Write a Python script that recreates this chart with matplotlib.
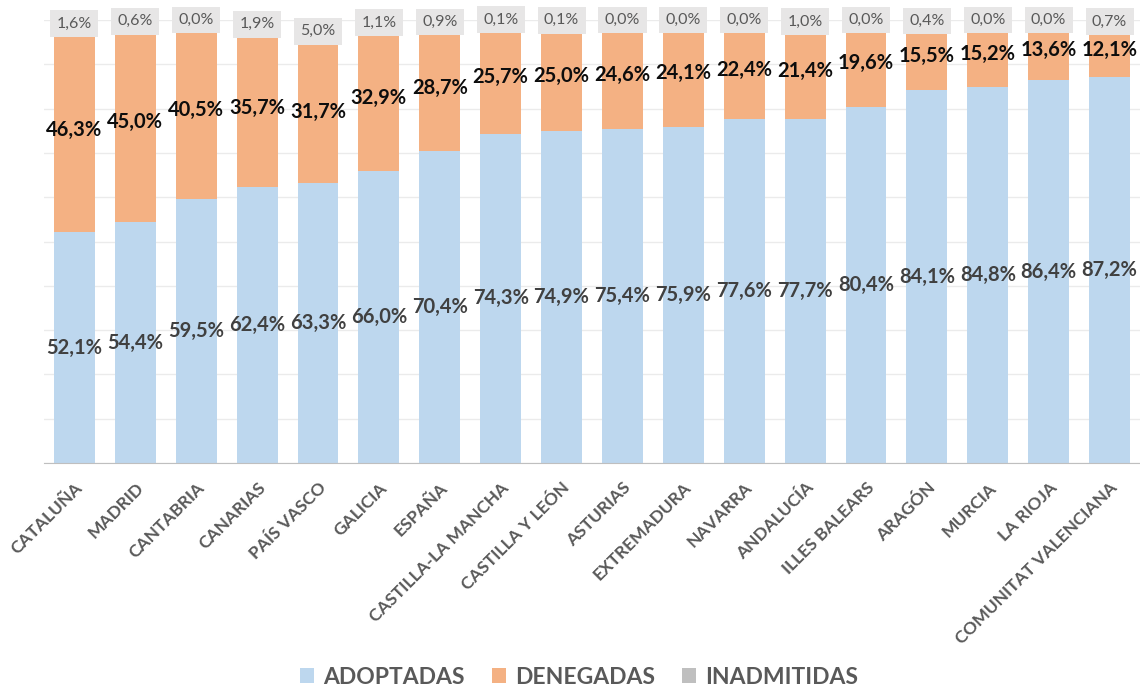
import matplotlib
matplotlib.use("Agg")
import matplotlib.pyplot as plt
import numpy as np

#  Regions, sorted by share of adopted resolutions.
regions = ["CATALUÑA", "MADRID", "CANTABRIA", "CANARIAS", "PAÍS VASCO", "GALICIA",
           "ESPAÑA", "CASTILLA-LA MANCHA", "CASTILLA Y LEÓN", "ASTURIAS", "EXTREMADURA",
           "NAVARRA", "ANDALUCÍA", "ILLES BALEARS", "ARAGÓN", "MURCIA", "LA RIOJA",
           "COMUNITAT VALENCIANA"]
adoptadas = [52.1, 54.4, 59.5, 62.4, 63.3, 66.0, 70.4, 74.3, 74.9, 75.4, 75.9,
             77.6, 77.7, 80.4, 84.1, 84.8, 86.4, 87.2]
denegadas = [46.3, 45.0, 40.5, 35.7, 31.7, 32.9, 28.7, 25.7, 25.0, 24.6, 24.1,
             22.4, 21.4, 19.6, 15.5, 15.2, 13.6, 12.1]
inadmitidas = [1.6, 0.6, 0.0, 1.9, 5.0, 1.1, 0.9, 0.1, 0.1, 0.0, 0.0,
               0.0, 1.0, 0.0, 0.4, 0.0, 0.0, 0.7]

c_blue = "#BDD7EE"
c_orange = "#F4B183"
c_gray = "#BFBFBF"

plt.rcParams["font.family"] = ["Lato", "DejaVu Sans"]

fig = plt.figure(figsize=(11.4, 6.91), dpi=100)
ax = fig.add_axes([0.0386, 0.33, 0.9614, 0.641])

x = np.arange(len(regions))
a = np.array(adoptadas)
d = np.array(denegadas)
n = np.array(inadmitidas)
w = 0.67

b1 = ax.bar(x, a, w, color=c_blue, label="ADOPTADAS", zorder=2)
b2 = ax.bar(x, d, w, bottom=a, color=c_orange, label="DENEGADAS", zorder=2)
b3 = ax.bar(x, n, w, bottom=a + d, color=c_gray, label="INADMITIDAS", zorder=2)

def fmt(v):
    return ("%.1f%%" % v).replace(".", ",")

#  Data labels: centred in each segment, grey ones on a light box.
for i in range(len(regions)):
    ax.text(x[i], a[i] / 2, fmt(a[i]), ha="center", va="center",
            fontsize=14.5, fontweight="bold", color="#404040", zorder=4)
    ax.text(x[i], a[i] + d[i] / 2, fmt(d[i]), ha="center", va="center",
            fontsize=14.5, fontweight="bold", color="#0D0D0D", zorder=4)
    ax.text(x[i], a[i] + d[i] + n[i] / 2, fmt(n[i]), ha="center", va="center",
            fontsize=11.5, color="#595959", zorder=4,
            bbox=dict(boxstyle="square,pad=0.4", fc="#E7E6E6", ec="none"))

ax.set_xlim(-0.5, len(regions) - 0.5)
ax.set_ylim(0, 100)
ax.set_yticks(np.arange(0, 101, 10))
ax.set_yticklabels([])
ax.tick_params(axis="y", length=0)
ax.grid(axis="y", color="#EBEBEB", linewidth=1, zorder=0)
ax.set_axisbelow(True)
for s in ["top", "right", "left"]:
    ax.spines[s].set_visible(False)
ax.spines["bottom"].set_color("#BFBFBF")
ax.spines["bottom"].set_zorder(3)

ax.set_xticks(x)
ax.set_xticklabels(regions, rotation=45, ha="right", rotation_mode="anchor",
                   fontsize=12.5, fontweight="bold", color="#595959")
ax.tick_params(axis="x", length=0, pad=12)

leg = fig.legend(handles=[b1, b2, b3], loc="center", bbox_to_anchor=(0.508, 0.02),
                 ncol=3, frameon=False, prop=dict(size=16.5, weight="bold"),
                 handlelength=0.6, handleheight=0.6, columnspacing=1.2,
                 handletextpad=0.4)
for t in leg.get_texts():
    t.set_color("#595959")

fig.savefig("out.png", dpi=100)
